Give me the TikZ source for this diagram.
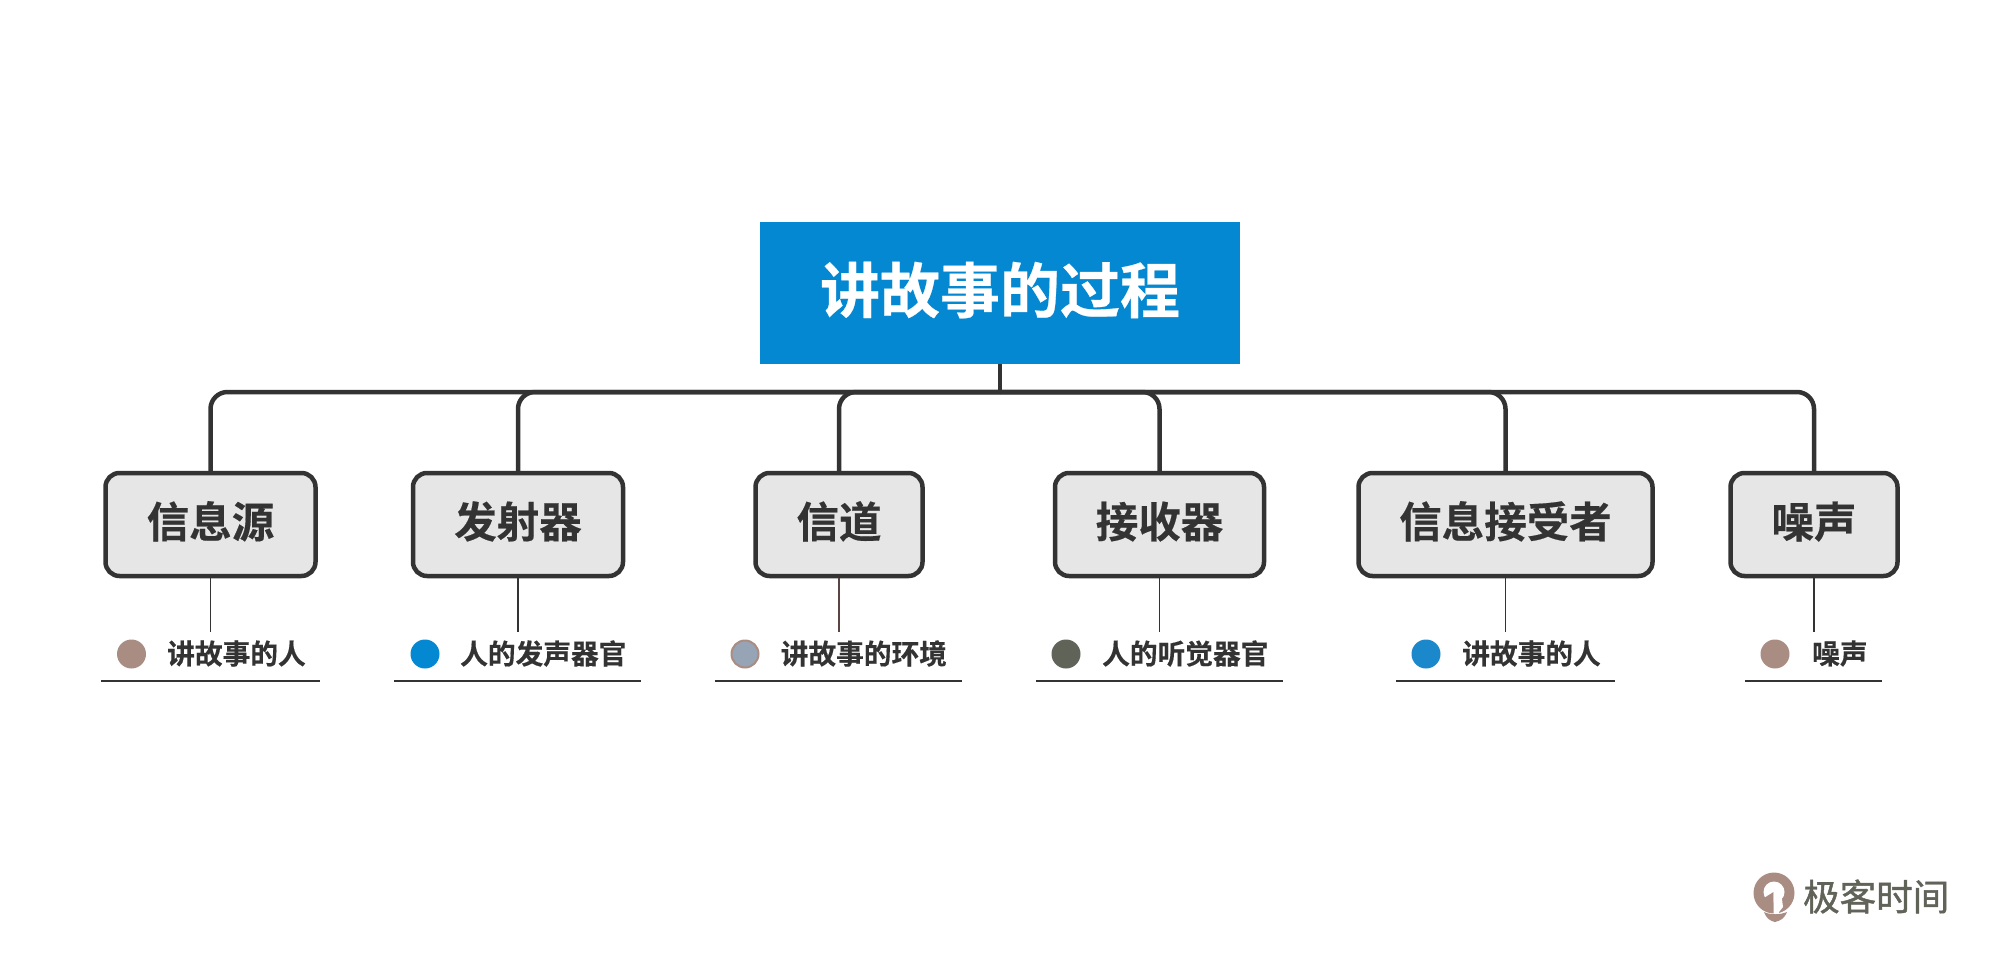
\documentclass[tikz,border=0pt]{standalone}
\usepackage{fontspec}
\setmainfont{Noto Sans CJK SC}[BoldFont={Noto Sans CJK SC Bold},BoldFeatures={FakeBold=0.4}]
\newfontfamily\logofont{Noto Sans CJK SC}[FakeBold=1.2]
\newcommand{\upshifted}[1]{\raisebox{3pt}[0.88em][0.12em]{#1}}
\definecolor{ink}{HTML}{333333}
\definecolor{inkbrown}{HTML}{5A4444}
\definecolor{boxfill}{HTML}{E6E6E6}
\definecolor{titleblue}{HTML}{0588D2}
\definecolor{taupe}{HTML}{A98D83}
\definecolor{haze}{HTML}{96A4B6}
\definecolor{moss}{HTML}{5F6358}
\definecolor{blue2}{HTML}{1B88CC}
\tikzset{
  titlebox/.style={fill=titleblue,text=white,minimum width=480pt,minimum height=142pt,inner sep=0pt,font=\fontsize{60}{60}\selectfont\bfseries},
  itembox/.style={draw=ink,line width=4.5pt,fill=boxfill,rounded corners=14pt,minimum height=103pt,inner sep=0pt,text=ink,font=\fontsize{42.5}{42.5}\selectfont\bfseries},
  trunk/.style={draw=ink,line width=4.5pt},
  branch/.style={draw=ink,line width=4.5pt,rounded corners=17pt},
  stem/.style={draw=ink,line width=1.8pt},
  rule/.style={draw=ink,line width=2pt},
  bullet/.style={circle,minimum size=29pt,inner sep=0pt},
  itemlabel/.style={anchor=west,inner sep=0pt,text=ink,font=\fontsize{27.7}{27.7}\selectfont\bfseries},
}
\begin{document}
\begin{tikzpicture}[x=1pt,y=-1pt]
\useasboundingbox[fill=white] (0,0) rectangle (2000,961);
\node[titlebox] (root) at (1000,293) {\upshifted{讲故事的过程}};
\coordinate (bus) at (1000,392);
\node[itembox,minimum width=210pt] (b1) at (210.5,524.5) {\upshifted{信息源}};
\node[itembox,minimum width=210pt] (b2) at (518,524.5) {\upshifted{发射器}};
\node[itembox,minimum width=167pt] (b3) at (839,524.5) {\upshifted{信道}};
\node[itembox,minimum width=209pt] (b4) at (1159.5,524.5) {\upshifted{接收器}};
\node[itembox,minimum width=294pt] (b5) at (1505.5,524.5) {\upshifted{信息接受者}};
\node[itembox,minimum width=167pt] (b6) at (1814,524.5) {\upshifted{噪声}};
\draw[trunk] (root.south) -- (bus);
\foreach \n in {b1,b2,b3,b4,b5,b6}{\draw[branch] (bus) -| (\n.north);}
\foreach \n/\x/\c in {b1/210.5/ink,b2/518/ink,b3/839/inkbrown,b4/1159.5/ink,b5/1505.5/ink,b6/1814/ink}{
  \coordinate (\n end) at (\x,632);
  \draw[stem,draw=\c] (\n.south) -- (\n end);
}
\node[bullet,fill=taupe] (d1) at (131.5,654) {};
\node[bullet,fill=titleblue] (d2) at (425,654) {};
\node[bullet,fill=haze,draw=taupe,line width=2pt,minimum size=27pt] (d3) at (745,654) {};
\node[bullet,fill=moss] (d4) at (1066,654) {};
\node[bullet,fill=blue2] (d5) at (1426,654) {};
\node[bullet,fill=taupe] (d6) at (1775,654) {};
\node[itemlabel] (t1) at (167,653.5) {讲故事的人};
\node[itemlabel] (t2) at (460,653.5) {人的发声器官};
\node[itemlabel] (t3) at (780.5,653.5) {讲故事的环境};
\node[itemlabel] (t4) at (1102,653.5) {人的听觉器官};
\node[itemlabel] (t5) at (1462,653.5) {讲故事的人};
\node[itemlabel] (t6) at (1812,653.5) {噪声};
\foreach \i/\a/\b in {1/101/320,2/394/641,3/715/962,4/1036/1283,5/1396/1615,6/1745/1882}{
  \coordinate (r\i a) at (\a,681);
  \coordinate (r\i b) at (\b,681);
  \draw[rule] (r\i a) -- (r\i b);
}
% logo
\fill[taupe] (1774,893) circle (20.5);
\fill[white] (1774,892) circle (10.5);
\fill[taupe] (1764,898) -- (1773.5,892) -- (1773.5,906) -- (1769,906) -- cycle;
\fill[white] (1773.5,892) -- (1781,892) -- (1783,907) -- (1779,912) -- (1778,915) -- (1773.5,915) -- cycle;
\fill[taupe] (1764,912) .. controls (1770,915) and (1780,915) .. (1787,912) .. controls (1785,918) and (1780,921) .. (1775,922) .. controls (1770,921) and (1766,918) .. (1764,912) -- cycle;
\node[inner sep=0pt,anchor=west,text=moss,font=\logofont\fontsize{36.5}{36.5}\selectfont] (logo) at (1803,896.5) {极客时间};
\end{tikzpicture}
\end{document}
